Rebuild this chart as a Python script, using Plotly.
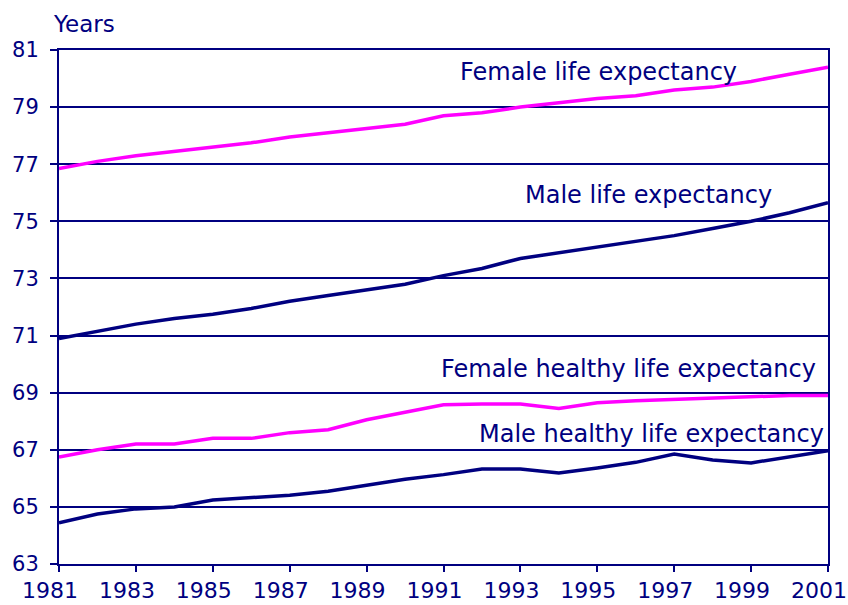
import plotly.graph_objects as go

years = list(range(1981, 2002))
female_le = [76.85, 77.1, 77.3, 77.45, 77.6, 77.75, 77.95, 78.1, 78.25, 78.4, 78.7,
             78.8, 79.0, 79.15, 79.3, 79.4, 79.6, 79.7, 79.9, 80.15, 80.4]
male_le = [70.9, 71.15, 71.4, 71.6, 71.75, 71.95, 72.2, 72.4, 72.6, 72.8, 73.1,
           73.35, 73.7, 73.9, 74.1, 74.3, 74.5, 74.75, 75.0, 75.3, 75.65]
female_hle = [66.75, 67.0, 67.2, 67.2, 67.4, 67.4, 67.6, 67.7, 68.05, 68.3, 68.58,
              68.6, 68.6, 68.45, 68.65, 68.72, 68.77, 68.82, 68.88, 68.9, 68.9]
male_hle = [64.44, 64.75, 64.93, 65.0, 65.24, 65.33, 65.41, 65.55, 65.77, 65.97, 66.13,
            66.33, 66.33, 66.19, 66.36, 66.56, 66.85, 66.64, 66.54, 66.74, 66.97]

y_ticks = [63, 65, 67, 69, 71, 73, 75, 77, 79, 81]
x_ticks = list(range(1981, 2002, 2))

NAVY = "#000080"
MAGENTA = "#FF00FF"
FONT = "DejaVu Sans"

fig = go.Figure()
for vals, col in [(female_le, MAGENTA), (male_le, NAVY), (female_hle, MAGENTA), (male_hle, NAVY)]:
    fig.add_trace(go.Scatter(x=years, y=vals, mode="lines",
                             line=dict(color=col, width=3.5), showlegend=False))

labels = [
    ("Female life expectancy", 0.7016, 0.958),
    ("Male life expectancy", 0.7666, 0.718),
    ("Female healthy life expectancy", 0.7406, 0.380),
    ("Male healthy life expectancy", 0.7705, 0.252),
]
for txt, px, py in labels:
    fig.add_annotation(text=txt, x=px, y=py, xref="paper", yref="paper",
                       xanchor="center", yanchor="middle", showarrow=False,
                       font=dict(family=FONT, size=24, color=NAVY))

fig.add_annotation(text="Years", x=-0.0065, y=1.05, xref="paper", yref="paper",
                   xanchor="left", yanchor="middle", showarrow=False, xshift=-3,
                   font=dict(family=FONT, size=23, color=NAVY))

fig.update_layout(
    width=848, height=605,
    margin=dict(l=59, r=20, t=50, b=41),
    paper_bgcolor="white", plot_bgcolor="white",
    xaxis=dict(range=[1981, 2001], tickvals=x_ticks, automargin=False,
               ticktext=[str(v) for v in x_ticks],
               showgrid=False, zeroline=False, showline=True, linecolor=NAVY, linewidth=2,
               mirror=True, ticks="outside", ticklen=6, tickwidth=2, tickcolor=NAVY,
               ticklabelstandoff=0, ticklabelshift=-9, ticklabeloverflow="allow",
               tickfont=dict(family=FONT, size=22, color=NAVY)),
    yaxis=dict(range=[63, 81], tickvals=y_ticks, ticktext=[str(v) for v in y_ticks],
               automargin=False,
               showgrid=True, gridcolor=NAVY, gridwidth=1.5, zeroline=False,
               showline=True, linecolor=NAVY, linewidth=2, mirror=True,
               ticks="outside", ticklen=7, tickwidth=1.5, tickcolor=NAVY,
               ticklabelstandoff=7,
               tickfont=dict(family=FONT, size=21, color=NAVY)),
)

fig.write_html("out.html", config={"displayModeBar": False},
               post_script="document.body.style.margin='0';")
